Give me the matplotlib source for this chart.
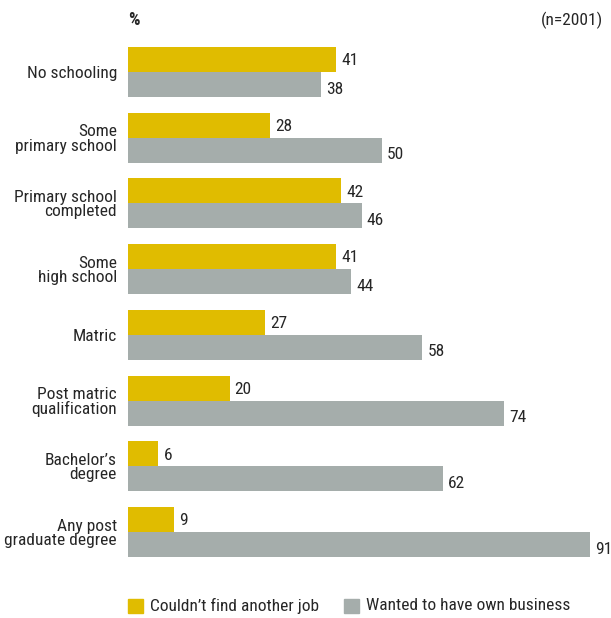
import matplotlib.pyplot as plt
import numpy as np

# Reasons for starting a business, by education level.
categories = [
    "No schooling",
    "Some\nprimary school",
    "Primary school\ncompleted",
    "Some\nhigh school",
    "Matric",
    "Post matric\nqualification",
    "Bachelor\u2019s\ndegree",
    "Any post\ngraduate degree",
]
no_job = [41, 28, 42, 41, 27, 20, 6, 9]
own_business = [38, 50, 46, 44, 58, 74, 62, 91]
series_names = ["Couldn\u2019t find another job", "Wanted to have own business"]

YELLOW = "#e0bc00"
GREY = "#a5adab"
TEXT = "#262626"

plt.rcParams["font.family"] = ["Roboto Condensed", "DejaVu Sans"]
plt.rcParams["text.color"] = TEXT
FS = 12.5

W, H = 611, 618
fig = plt.figure(figsize=(W / 100, H / 100), dpi=100)
ax = fig.add_axes([128 / W, 61 / H, (W - 128) / W, (557 - 47) / H])

y = np.arange(len(categories))
h = 0.38
ax.barh(y - h / 2, no_job, height=h, color=YELLOW)
ax.barh(y + h / 2, own_business, height=h, color=GREY)

for yi, v in zip(y, no_job):
    ax.text(v + 1.0, yi - h / 2 + 0.02, str(v), va="center", ha="left", fontsize=FS)
for yi, v in zip(y, own_business):
    ax.text(v + 1.0, yi + h / 2 + 0.07, str(v), va="center", ha="left", fontsize=FS)

ax.set_xlim(0, (W - 128) / 5.077)
ax.set_ylim(len(categories) - 1 + h, -h)
ax.set_yticks(y)
ax.set_yticklabels(categories, fontsize=FS, linespacing=0.95, color=TEXT)
ax.tick_params(axis="y", length=0, pad=8)
for lbl in ax.get_yticklabels():
    lbl.set_horizontalalignment("right")
ax.set_xticks([])
for s in ax.spines.values():
    s.set_visible(False)

fig.text(128 / W, 1 - 20 / H, "%", fontsize=13, fontweight="bold", va="center", ha="left")
fig.text(603 / W, 1 - 20 / H, "(n=2001)", fontsize=FS, va="center", ha="right")

# legend row
for x0, col, name in [(128, YELLOW, series_names[0]), (344, GREY, series_names[1])]:
    fig.patches.append(plt.Rectangle((x0 / W, 1 - 613 / H), 15 / W, 14 / H,
                                     transform=fig.transFigure, color=col))
    fig.text((x0 + 22) / W, 1 - 606 / H, name, fontsize=FS, va="center", ha="left")

fig.savefig("out.png", dpi=100)
